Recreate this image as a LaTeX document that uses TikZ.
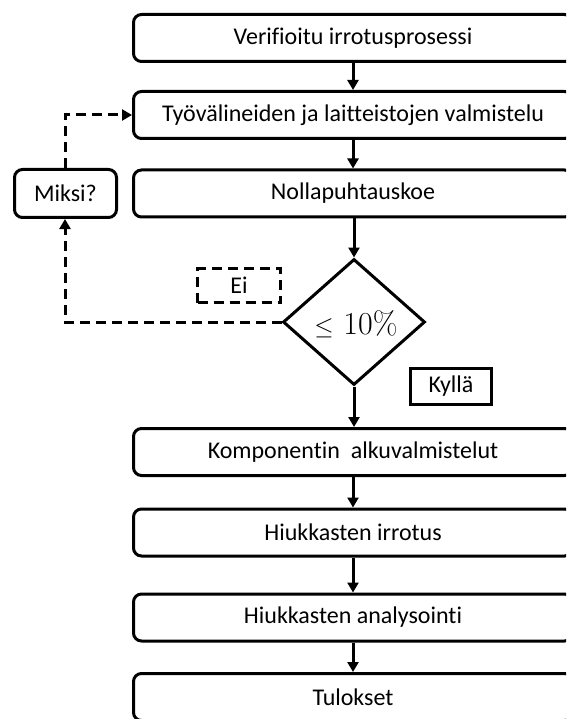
\documentclass[tikz,border=0pt]{standalone}
\usepackage{fontspec}
\setmainfont{Carlito}[Ligatures=NoCommon]
\newfontfamily\lmfont{Latin Modern Roman}
\usetikzlibrary{arrows.meta,shapes.geometric}
\tikzset{
  txt/.style={font=\fontsize{24}{27}\selectfont},
  stepbox/.style={draw, line width=3pt, rounded corners=8pt, minimum width=439pt, minimum height=47pt, inner sep=0pt, txt},
  sidebox/.style={draw, line width=3pt, rounded corners=8pt, minimum width=102pt, minimum height=48pt, inner sep=0pt, txt},
  labelbox/.style={draw, line width=3pt, inner sep=0pt, txt},
  decision/.style={draw, diamond, line width=3pt, minimum width=142pt, minimum height=126pt, inner sep=0pt, aspect=1.12},
  flow/.style={line width=3pt, -{Triangle[width=11pt,length=10pt]}},
  dashflow/.style={line width=3pt, dash pattern=on 10pt off 6pt, -{Triangle[width=11pt,length=10pt]}},
}
\begin{document}
\begin{tikzpicture}[x=1pt,y=-1pt]
\useasboundingbox (0,0) rectangle (566,719);
\clip (0,0) rectangle (566,719);
\node[stepbox] (b1) at (353,38) {Verifioitu irrotusprosessi};
\node[stepbox] (b2) at (353,115) {Työvälineiden ja laitteistojen valmistelu};
\node[stepbox] (b3) at (353,193.5) {Nollapuhtauskoe};
\node[decision] (d) at (354,322) {};
\node (dt) at (356,324) {\fontsize{32}{34}\selectfont$\leq$\hspace{0.3em}\lmfont 10\%};
\node[stepbox] (b4) at (353,452) {Komponentin\ \ alkuvalmistelut};
\node[stepbox] (b5) at (353,532.5) {Hiukkasten irrotus};
\node[stepbox] (b6) at (353,617.5) {Hiukkasten analysointi};
\node[stepbox] (b7) at (353,697) {Tulokset};
\node[sidebox] (m) at (65.5,193.5) {Miksi?};
\node[labelbox, dash pattern=on 10pt off 6pt, minimum width=83pt, minimum height=34pt] (ei) at (239,285.5) {Ei};
\node[labelbox, minimum width=81pt, minimum height=36pt] (k) at (451,386.5) {Kyllä};
\coordinate (c1) at (65,322);
\coordinate (c2) at (65,115);
\draw[flow] (b1) -- (b2);
\draw[flow] (b2) -- (b3);
\draw[flow] (b3.south -| d.north) -- (d.north);
\draw[flow] (d.south) -- (b4.north -| d.south);
\draw[flow] (b4) -- (b5);
\draw[flow] (b5) -- (b6);
\draw[flow] (b6) -- (b7);
\draw[dashflow] (d.west) -- (c1) -- (m.south -| c1);
\draw[dashflow] (m.north -| c2) -- (c2) -- (b2.west);
\end{tikzpicture}
\end{document}
